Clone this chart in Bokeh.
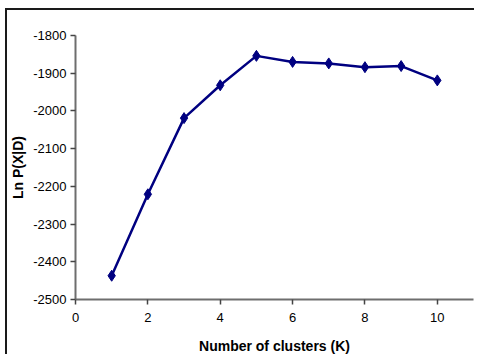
from bokeh.plotting import figure
from bokeh.embed import file_html
from bokeh.resources import INLINE
from bokeh.models import FixedTicker, Range1d, PrintfTickFormatter

k_values = [1, 2, 3, 4, 5, 6, 7, 8, 9, 10]
ln_p = [-2437, -2221, -2019, -1932, -1854, -1870, -1874, -1884, -1881, -1919]
x_ticks = [0, 2, 4, 6, 8, 10]
y_ticks = [-2500, -2400, -2300, -2200, -2100, -2000, -1900, -1800]
x_title = "Number of clusters (K)"
y_title = "Ln P(X|D)"

W, H = 469, 346
BL, BR, BT, BB = 66, 3, 25, 56
X0, X1, Y0, Y1 = 0, 11, -2500, -1800
p = figure(width=W, height=H, output_backend="svg", toolbar_location=None,
           x_range=Range1d(X0, X1), y_range=Range1d(Y0, Y1),
           min_border_left=BL, min_border_right=BR, min_border_top=BT, min_border_bottom=BB)
p.styles = {"border-left": "2px solid #1a1a1a", "border-top": "2px solid #1a1a1a",
            "margin-left": "5px", "margin-top": "8px"}
p.outline_line_color = None
p.grid.visible = False

p.line(k_values, ln_p, line_color="#000080", line_width=2.5)
p.scatter(k_values, ln_p, marker="diamond", size=11, fill_color="#000080", line_color="#000080")

font = "Liberation Sans"
for ax in (p.xaxis[0], p.yaxis[0]):
    ax.axis_line_color = "#6e6e6e"
    ax.axis_line_width = 2
    ax.major_tick_line_color = "#444444"
    ax.major_tick_line_width = 1.5
    ax.minor_tick_line_color = None
    ax.major_tick_in = 0
    ax.major_tick_out = 5
    ax.major_label_text_font = font
    ax.major_label_text_font_size = "13px"
    ax.major_label_text_color = "#000000"
    ax.axis_label_text_font = font
    ax.axis_label_text_font_size = "14px"
    ax.axis_label_text_font_style = "bold"
    ax.axis_label_text_color = "#000000"

p.xaxis.ticker = FixedTicker(ticks=x_ticks)
p.yaxis.ticker = FixedTicker(ticks=y_ticks)
p.xaxis.formatter = PrintfTickFormatter(format="%d")
p.yaxis.formatter = PrintfTickFormatter(format="%d")
p.xaxis.axis_label = x_title
p.yaxis.axis_label = y_title
p.xaxis.major_label_standoff = 8
p.xaxis.axis_label_standoff = 13
p.yaxis.major_label_standoff = 4
p.yaxis.axis_label_standoff = 4

open("out.html", "w").write(file_html(p, INLINE))
